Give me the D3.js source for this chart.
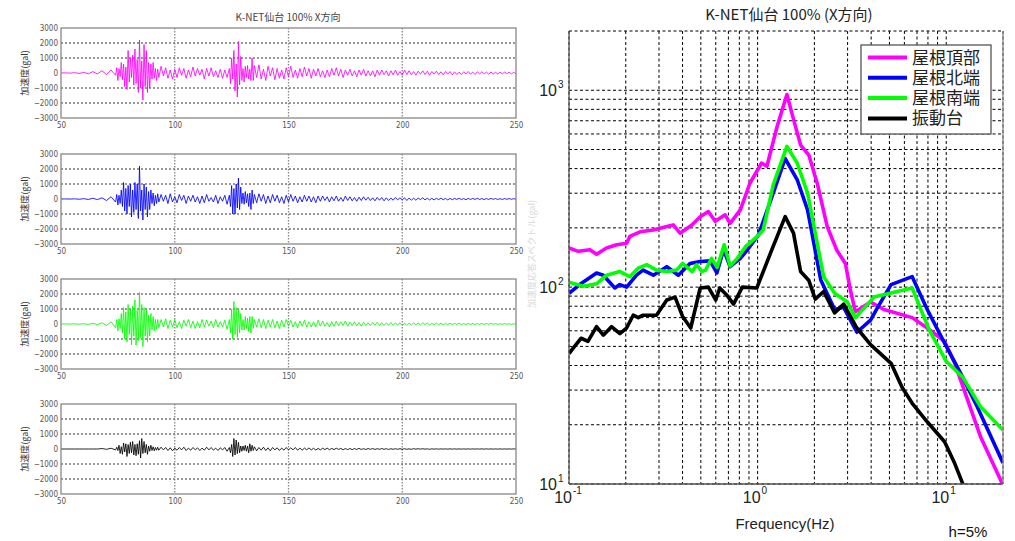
<!DOCTYPE html>
<html><head><meta charset="utf-8">
<script src="https://cdn.jsdelivr.net/npm/d3@7"></script>
<style>body{margin:0;background:#fff}</style>
</head><body>
<svg id="c" width="1015" height="541"></svg>
<script>
// ---------- DATA ----------
const leftTitle = "K-NET仙台 100% X方向";
const rightTitle = "K-NET仙台 100% (X方向)";
const waveYLabel = "加速度(gal)";
const timeTicks = [50, 100, 150, 200, 250];
const accelTicks = [-3000, -2000, -1000, 0, 1000, 2000, 3000];
// sampling segments of the read-off peak values: [start, end, step] seconds
const sampleSegments = [[50,72,2],[74,92.5,0.5],[93,123,1],[124,134.5,0.5],[135,250,1]];

const seriesNames = ["屋根頂部", "屋根北端", "屋根南端", "振動台"];
const seriesColors = ["#ff00ff", "#0000ff", "#00ff00", "#000000"];

// waveform peaks (gal), one per sample time
const wavePink = [
 0,10,-10,20,-30,40,-50,90,-60,150,-110,200,
 -150,350,-500,300,-250,700,-450,600,-900,400,-1100,1500,-600,1000,-300,1200,-800,1600,-700,900,-1300,2200,-1000,800,-1800,1900,-900,1500,-1300,700,-1000,600,-400,700,-350,300,-500,250,
 -300,450,-200,350,-350,200,-400,250,-300,350,-150,300,-350,200,-250,400,-200,300,-150,250,-400,300,-200,350,-250,150,-300,250,-350,200,-300,
 300,-700,1000,-400,1500,-1200,600,-1600,2100,-800,1100,-500,300,-600,450,-300,500,-400,250,-500,1000,-500,
 500,-300,550,-400,250,-500,450,-200,350,-450,300,-350,200,-400,350,-250,450,-300,200,-350,300,-250,400,-200,300,
 -350,250,-200,300,-250,150,-300,200,-250,300,-150,350,-200,250,-300,200,-150,250,-200,150,-250,200,-150,250,-200,150,-200,150,-250,200,-150,200,-100,150,-200,150,-120,200,-150,100,
 -150,200,-100,150,-120,100,-150,120,-80,150,-100,120,-150,100,-80,120,-100,80,-120,100,-80,100,-120,80,-100,60,-100,80,-60,100,-80,60,-100,80,-60,80,-50,60,-80,60,-60,50,-70,60,-50,60,-40,50,-60,40,-50
];
const waveBlue = [
 0,5,-5,10,-15,20,-30,50,-40,80,-100,150,
 -200,300,-400,250,-300,600,-500,1100,-800,700,-1000,900,-500,1000,-1200,600,-900,1100,-700,1000,-1300,2200,-800,600,-1400,1000,-700,800,-1200,500,-700,600,-300,400,-450,250,-300,350,
 -200,300,-150,250,-300,350,-200,150,-250,300,-100,250,-300,200,-150,250,-200,150,-300,200,-250,300,-150,100,-200,250,-300,150,-150,250,-350,
 250,-500,900,-1000,700,-1000,1000,-600,1400,-700,800,-300,400,-350,500,-250,350,-500,400,-700,600,-300,
 300,-250,350,-150,300,-300,200,-250,300,-150,250,-250,150,-300,250,-200,300,-150,200,-250,150,-200,250,-150,200,
 -200,150,-250,200,-150,200,-100,150,-200,150,-120,200,-150,100,-150,200,-100,150,-120,100,-150,120,-100,150,-80,120,-100,80,-120,100,-80,100,-120,80,-100,60,-80,100,-60,80,
 -60,80,-100,60,-80,50,-80,60,-40,80,-60,50,-60,40,-60,50,-40,60,-50,40,-60,40,-50,40,-30,50,-40,30,-50,40,-30,40,-30,50,-30,30,-40,30,-30,40,-20,30,-30,20,-30,30,-20,30,-20,20,-20
];
const waveGreen = [
 0,5,-5,10,-15,20,-30,50,-40,80,-100,150,
 -250,300,-450,350,-300,700,-600,1100,-1000,800,-1200,1300,-700,1000,-1400,1200,-800,1600,-1400,900,-1100,2100,-900,1300,-1500,1100,-800,1000,-1200,600,-800,700,-400,500,-450,300,-350,300,
 -250,300,-200,350,-300,250,-200,300,-250,150,-300,250,-150,300,-250,200,-300,150,-250,300,-200,250,-150,200,-250,300,-200,150,-200,250,-350,
 300,-600,1000,-1000,1500,-700,1100,-900,1000,-600,700,-400,300,-400,500,-300,400,-500,500,-600,500,-300,
 300,-200,350,-250,300,-300,250,-200,300,-250,200,-300,250,-200,300,-150,250,-200,150,-250,200,-150,250,-200,150,
 -200,150,-200,250,-150,200,-150,100,-200,150,-150,200,-120,150,-100,200,-150,120,-100,150,-120,100,-150,120,-100,80,-120,100,-80,120,-100,80,-100,60,-80,100,-80,60,-60,80,
 -80,60,-100,60,-60,80,-50,60,-60,80,-40,60,-60,40,-50,60,-40,50,-60,40,-50,50,-40,40,-30,50,-40,30,-40,40,-30,40,-40,30,-30,40,-30,30,-30,40,-20,30,-30,20,-20,30,-20,20,-30,20,-20
];
const waveBlack = [
 0,0,0,0,0,0,0,0,0,30,-20,50,
 -60,120,-100,250,-300,150,-350,400,-200,350,-500,300,-300,450,-250,500,-400,300,-450,350,-350,550,-600,700,-300,500,-250,300,-350,200,-150,250,-100,150,-120,100,-80,120,
 -80,120,-60,100,-100,80,-120,60,-80,100,-60,120,-100,60,-80,100,-60,80,-100,60,-80,120,-60,100,-80,60,-100,80,-60,100,-150,
 100,-250,300,-500,700,-400,600,-300,450,-250,200,-150,200,-100,250,-150,200,-250,350,-150,250,-100,
 150,-120,100,-80,120,-100,80,-120,100,-60,80,-100,60,-80,100,-60,80,-60,100,-80,60,-80,60,-50,70,
 -60,50,-70,40,-60,50,-40,60,-50,40,-40,50,-30,40,-50,30,-40,30,-40,30,-30,40,-30,20,-30,30,-20,30,-30,20,-20,30,-20,20,-30,20,-20,20,-20,20,
 -20,20,-20,10,-20,20,-10,20,-10,20,-10,10,-20,10,-10,10,-10,10,-10,10,-10,10,-10,10,-10,10,-10,10,-10,10,-10,10,-10,10,-10,10,-10,10,-10,10,-10,10,-10,10,-10,10,-10,10,-10,10,-10
];
const waves = [wavePink, waveBlue, waveGreen, waveBlack];

// response spectra [frequency Hz, acceleration gal]
const specPink = [[0.1,158],[0.112,152],[0.129,155],[0.14,147],[0.158,158],[0.179,164],[0.202,167],[0.21,181],[0.238,191],[0.28,195],[0.33,203],[0.357,207],[0.388,188],[0.448,207],[0.496,228],[0.548,242],[0.596,216],[0.672,233],[0.715,211],[0.81,247],[0.91,337],[1.05,427],[1.12,411],[1.27,657],[1.43,951],[1.52,763],[1.69,527],[1.87,468],[2.07,337],[2.34,203],[2.63,154],[2.92,132],[3.1,97],[3.3,75],[3.97,84],[4.67,77],[6.6,70],[7.93,62],[9.8,53],[11.1,41],[12.8,27.8],[15.2,17.4],[19.4,10.5],[20,9.8]];
const specBlue = [[0.1,93],[0.114,103],[0.14,118],[0.152,115],[0.175,99],[0.186,103],[0.202,100],[0.228,115],[0.247,122],[0.28,115],[0.33,127],[0.38,115],[0.438,132],[0.496,135],[0.56,136],[0.608,118],[0.66,155],[0.715,127],[0.81,140],[0.88,154],[1.01,184],[1.21,300],[1.4,450],[1.62,352],[1.84,247],[2.16,109],[2.56,77],[2.86,79],[3.36,59],[3.97,68],[4.3,78],[5.1,103],[6.6,113],[7.93,77],[9.6,54],[12.2,35],[14.6,24.7],[20,12.8]];
const specGreen = [[0.1,106],[0.119,101],[0.14,104],[0.158,115],[0.186,120],[0.21,113],[0.233,125],[0.258,130],[0.291,122],[0.33,120],[0.372,122],[0.4,132],[0.45,120],[0.475,130],[0.505,120],[0.53,122],[0.57,140],[0.61,126],[0.665,164],[0.715,128],[0.78,140],[0.86,160],[0.99,180],[1.07,195],[1.21,331],[1.43,519],[1.62,427],[1.84,300],[2.24,113],[2.56,93],[2.99,84],[3.3,70],[4.14,89],[6.6,99],[8.1,61],[10,42],[12.2,35],[15.2,24.7],[20,18.8]];
const specBlack = [[0.1,46],[0.107,50],[0.116,55],[0.126,53],[0.14,63],[0.152,57],[0.168,63],[0.186,58],[0.202,62],[0.219,72],[0.233,70],[0.247,72],[0.291,72],[0.33,86],[0.365,89],[0.4,71],[0.442,62],[0.496,99],[0.548,100],[0.6,86],[0.63,99],[0.687,91],[0.745,82],[0.83,100],[0.99,99],[1.19,155],[1.4,228],[1.55,188],[1.69,120],[1.87,108],[2.02,87],[2.24,95],[2.56,74],[2.86,82],[3.36,62],[3.97,51],[5.1,41],[5.83,31],[6.6,25.7],[7.93,20.7],[9.8,16.4],[11.1,12.7],[12.2,10.1],[13,8.5]];
const spectra = [specPink, specBlue, specGreen, specBlack];
const freqTickExp = [-1, 0, 1];
const accTickExp = [1, 2, 3];
const freqLabel = "Frequency(Hz)";
const dampLabel = "h=5%";
const specYLabel = "加速度応答スペクトル(gal)";

// ---------- DRAW ----------
const svg = d3.select("#c");
const jp = "'Noto Sans CJK JP', 'Liberation Sans', sans-serif";
const narrow = "'Liberation Sans Narrow', 'DejaVu Sans Condensed', 'Liberation Sans', sans-serif";

// sample times
const times = [];
sampleSegments.forEach(([a,b,s]) => { for (let t=a; t<=b+1e-9; t+=s) times.push(+t.toFixed(2)); });

// left waveform panels
const wx = d3.scaleLinear().domain([50,250]).range([61,516]);
const panelTops = [28,154,279,404], panelH = 90;

svg.append("text").attr("x",288).attr("y",21).attr("text-anchor","middle")
  .attr("font-family",jp).attr("font-size",10).attr("fill","#444").text(leftTitle);

panelTops.forEach((top,i) => {
  const wy = d3.scaleLinear().domain([-3000,3000]).range([top+panelH, top]);
  const g = svg.append("g");
  g.selectAll(".hg").data(accelTicks.filter(v=>v!==0 && Math.abs(v)<3000)).enter().append("line")
    .attr("x1",wx(50)).attr("x2",wx(250)).attr("y1",d=>wy(d)).attr("y2",d=>wy(d))
    .attr("stroke","#333").attr("stroke-width",1).attr("stroke-dasharray","2,2");
  g.selectAll(".vg").data(timeTicks.slice(1,-1)).enter().append("line")
    .attr("x1",d=>wx(d)).attr("x2",d=>wx(d)).attr("y1",top).attr("y2",top+panelH)
    .attr("stroke","#888").attr("stroke-width",1.3).attr("stroke-dasharray","1.5,1.5");
  const pts = waves[i].map((v,k)=>[times[k], v]).filter(d=>d[0]!==undefined);
  g.append("path").datum(pts)
    .attr("d", d3.line().x(d=>wx(d[0])).y(d=>wy(d[1])))
    .attr("fill","none").attr("stroke",seriesColors[i]).attr("stroke-width",0.85);
  g.append("rect").attr("x",wx(50)).attr("y",top).attr("width",wx(250)-wx(50)).attr("height",panelH)
    .attr("fill","none").attr("stroke","#888").attr("stroke-width",1.3);
  const ay = d3.axisLeft(wy).tickValues(accelTicks).tickSize(0).tickPadding(3).tickFormat(d3.format("d"));
  const ga = g.append("g").attr("transform",`translate(${wx(50)},0)`).call(ay);
  ga.select(".domain").remove();
  ga.selectAll("text").attr("font-family",narrow).attr("font-size",8).attr("fill","#555");
  const ax = d3.axisBottom(wx).tickValues(timeTicks).tickSize(0).tickPadding(4);
  const gx = g.append("g").attr("transform",`translate(0,${top+panelH})`).call(ax);
  gx.select(".domain").remove();
  gx.selectAll("text").attr("font-family",narrow).attr("font-size",8).attr("fill","#555");
  g.append("text").attr("transform",`translate(28,${top+panelH/2}) rotate(-90)`)
    .attr("text-anchor","middle").attr("font-family",jp).attr("font-size",9).attr("fill","#333").text(waveYLabel);
});

// right spectrum chart
const fx = d3.scaleLog().domain([0.1,20]).range([569,1003]);
const fy = d3.scaleLog().domain([10,2000]).range([484,31]);
const rg = svg.append("g");
rg.append("rect").attr("x",569).attr("y",31).attr("width",434).attr("height",453).attr("fill","#fff");
rg.selectAll(".vg").data(fx.ticks()).enter().append("line")
  .attr("x1",d=>fx(d)).attr("x2",d=>fx(d)).attr("y1",31).attr("y2",484)
  .attr("stroke","#000").attr("stroke-width",1).attr("stroke-dasharray","3,2.5");
rg.selectAll(".hg").data(fy.ticks()).enter().append("line")
  .attr("x1",569).attr("x2",1003).attr("y1",d=>fy(d)).attr("y2",d=>fy(d))
  .attr("stroke","#000").attr("stroke-width",1).attr("stroke-dasharray","3,2.5");

svg.append("clipPath").attr("id","clipR").append("rect").attr("x",569).attr("y",31).attr("width",434).attr("height",453);
const sl = d3.line().x(d=>fx(d[0])).y(d=>fy(d[1]));
const cg = rg.append("g").attr("clip-path","url(#clipR)");
spectra.forEach((s,i)=>{
  cg.append("path").datum(s).attr("d",sl).attr("fill","none")
    .attr("stroke",seriesColors[i]).attr("stroke-width",3.6).attr("stroke-linejoin","round");
});
rg.append("line").attr("x1",1003).attr("x2",1003).attr("y1",31).attr("y2",484).attr("stroke","#888").attr("stroke-width",1.3);
rg.append("line").attr("x1",569).attr("x2",569).attr("y1",31).attr("y2",484).attr("stroke","#555").attr("stroke-width",1.3);
rg.append("line").attr("x1",569).attr("x2",1003).attr("y1",484).attr("y2",484).attr("stroke","#555").attr("stroke-width",1.3);

const sans = "'Liberation Sans', 'DejaVu Sans', sans-serif";
accTickExp.forEach(e=>{
  rg.append("text").attr("x",557).attr("y",fy(Math.pow(10,e))+6).attr("text-anchor","end")
    .attr("font-family",sans).attr("font-size",16).attr("fill","#222").text("10");
  rg.append("text").attr("x",558).attr("y",fy(Math.pow(10,e))-2)
    .attr("font-family",sans).attr("font-size",10).attr("fill","#222").text(String(e));
});
freqTickExp.forEach(e=>{
  const x = fx(Math.pow(10,e));
  rg.append("text").attr("x",x+3).attr("y",503).attr("text-anchor","end")
    .attr("font-family",sans).attr("font-size",16).attr("fill","#222").text("10");
  rg.append("text").attr("x",x+4).attr("y",494)
    .attr("font-family",sans).attr("font-size",10).attr("fill","#222").text(e<0?"-"+Math.abs(e):String(e));
});
rg.append("text").attr("x",785).attr("y",529).attr("text-anchor","middle")
  .attr("font-family",sans).attr("font-size",15).attr("fill","#222").text(freqLabel);
rg.append("text").attr("x",968).attr("y",537).attr("text-anchor","middle")
  .attr("font-family",sans).attr("font-size",15).attr("fill","#111").text(dampLabel);
rg.append("text").attr("x",789).attr("y",20).attr("text-anchor","middle")
  .attr("font-family",jp).attr("font-size",15).attr("fill","#222").text(rightTitle);
rg.append("text").attr("transform","translate(535,254) rotate(-90)").attr("text-anchor","middle")
  .attr("font-family",jp).attr("font-size",9).attr("fill","#d8d8d8").text(specYLabel);

const lg = rg.append("g");
lg.append("rect").attr("x",861).attr("y",45).attr("width",130).attr("height",89)
  .attr("fill","#fff").attr("stroke","#555").attr("stroke-width",1.3);
seriesNames.forEach((n,i)=>{
  const y = 57.5 + i*20.3;
  lg.append("line").attr("x1",868).attr("x2",907).attr("y1",y).attr("y2",y)
    .attr("stroke",seriesColors[i]).attr("stroke-width",4);
  lg.append("text").attr("x",912).attr("y",y+6).attr("font-family",jp).attr("font-size",17)
    .attr("fill","#222").text(n);
});
</script>
</body></html>
